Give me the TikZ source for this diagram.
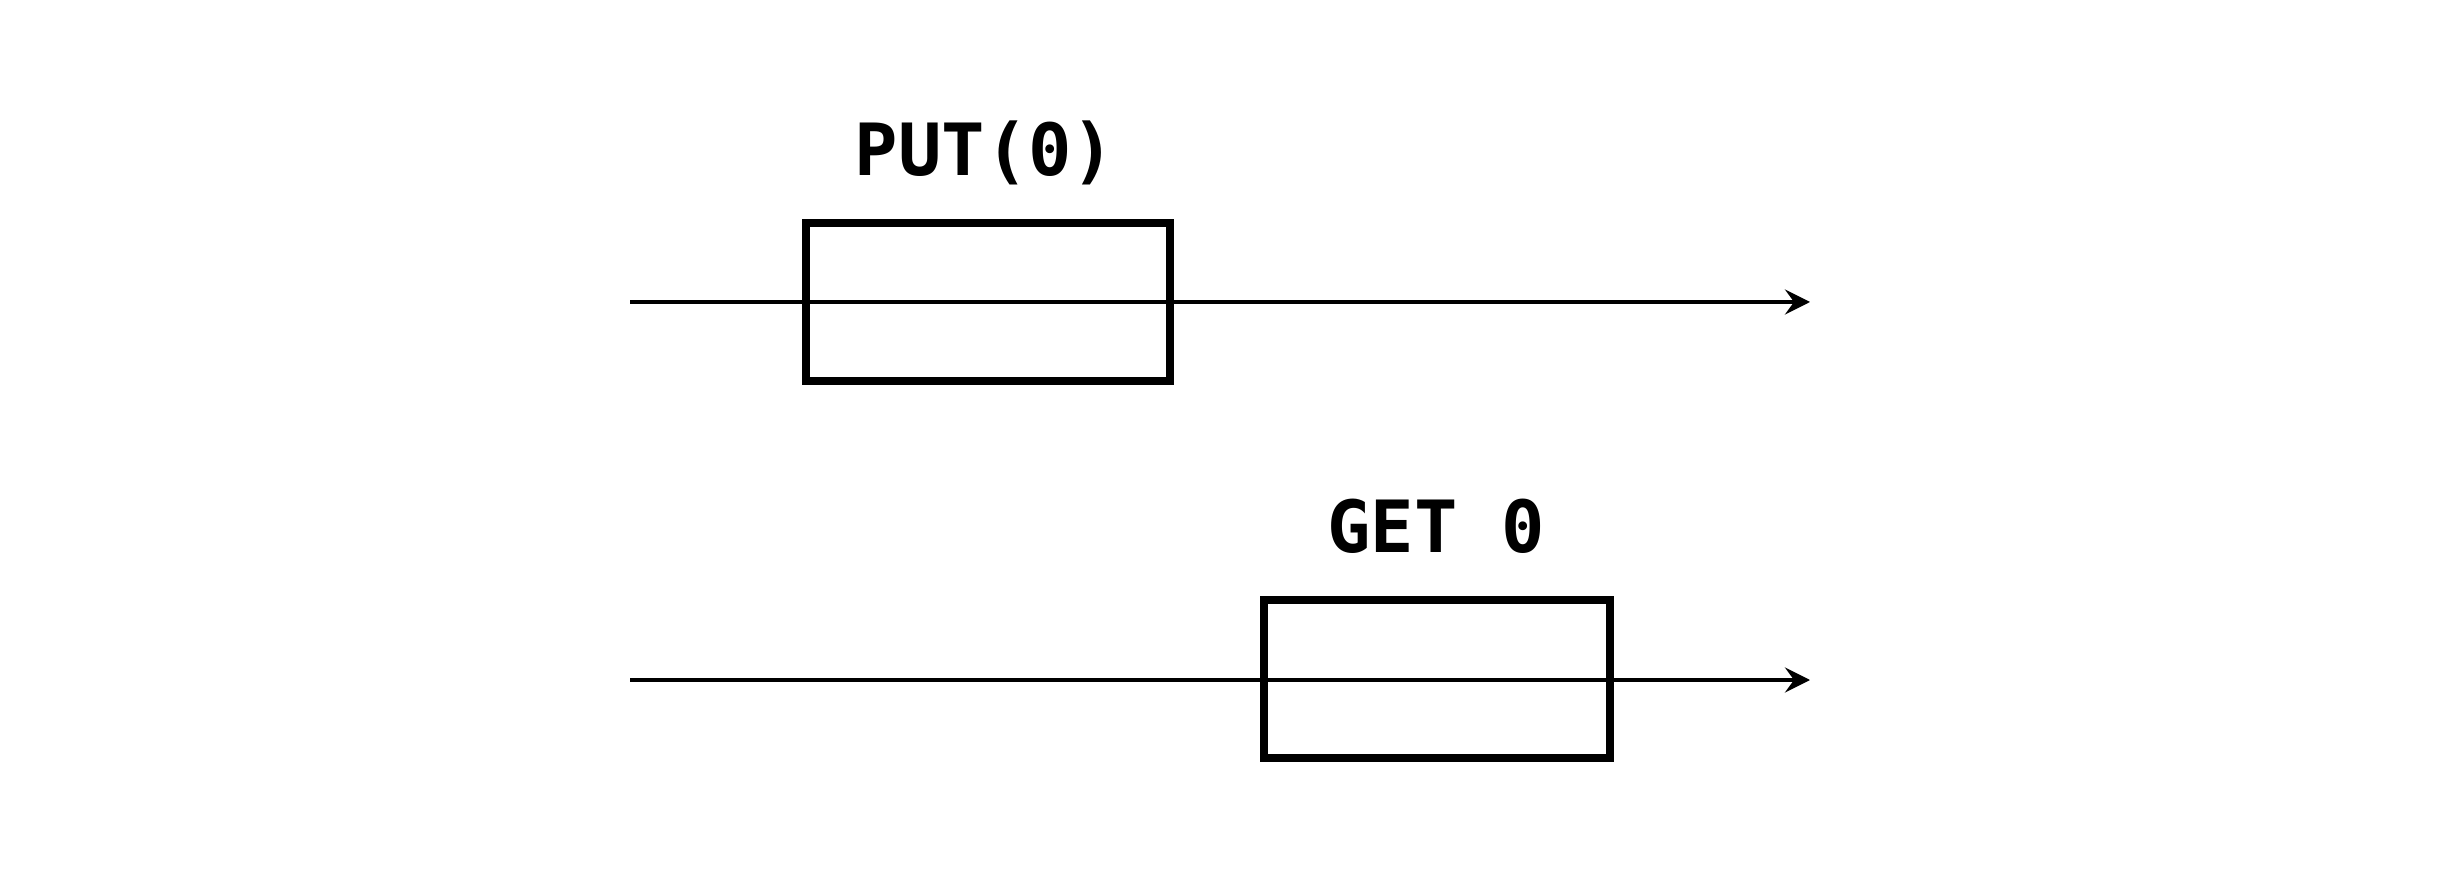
\documentclass[tikz,border=0pt]{standalone}
\usepackage{fontspec}
\setmonofont{DejaVu Sans Mono}
\usetikzlibrary{arrows.meta}
\tikzset{
    timeline/.style={
        line width=1.4pt,
        -{Stealth[length=2.5mm, width=2.5mm, inset=0.9mm]}
    },
    opbox/.style={
        draw, rectangle, line width=2.3pt,
        minimum height=1.58cm, inner sep=0pt, outer sep=0pt
    },
    oplabel/.style={
        font=\ttfamily\bfseries\fontsize{20.5}{24}\selectfont,
        anchor=base, inner sep=0pt
    }
}

\begin{document}
\begin{tikzpicture}

    \useasboundingbox (0,0) rectangle (24.42,8.83);

    % first line
    \coordinate (putstart) at (6.30, 5.81);
    \coordinate (putend) at (18.10, 5.81);
    \draw[timeline] (putstart) -- (putend);
    \node[opbox, minimum width=3.64cm] (putbox) at (9.88, 5.81) {};
    \node[oplabel] (putlbl) at (9.85, 7.07) {PUT(0)};

    % second line
    \coordinate (getstart) at (6.30, 2.03);
    \coordinate (getend) at (18.10, 2.03);
    \draw[timeline] (getstart) -- (getend);
    \node[opbox, minimum width=3.46cm] (getbox) at (14.37, 2.04) {};
    \node[oplabel] (getlbl) at (14.36, 3.30) {GET 0};

\end{tikzpicture}
\end{document}
